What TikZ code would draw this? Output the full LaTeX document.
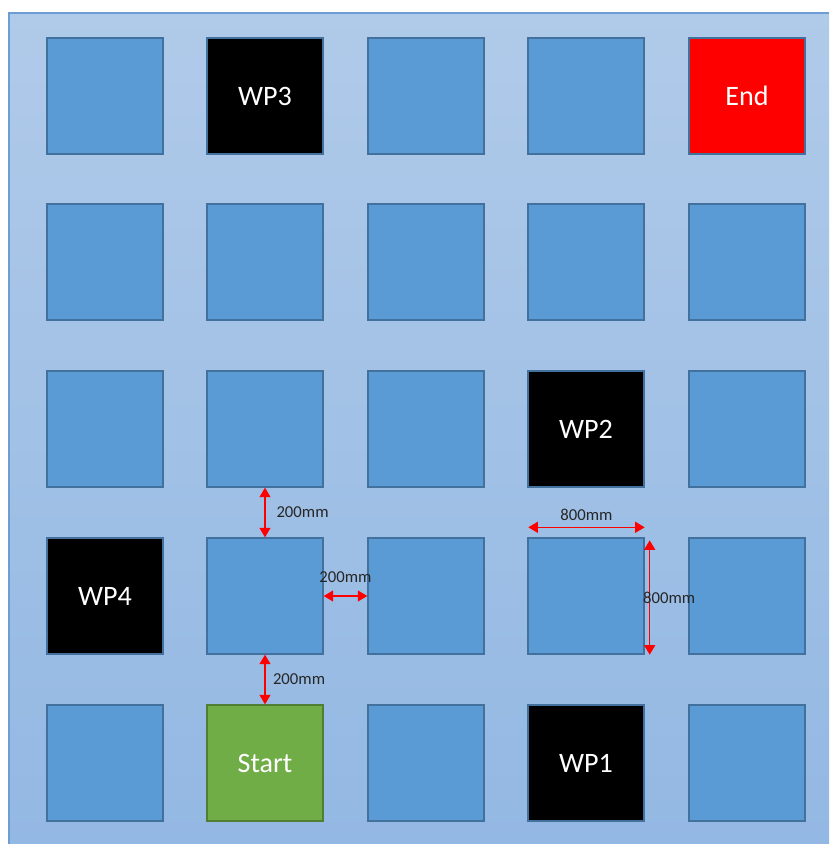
\documentclass[tikz,border=0pt]{standalone}
\usepackage{fontspec}
\setmainfont{Carlito}
\usetikzlibrary{arrows.meta,calc,positioning}

\definecolor{panelTop}{HTML}{B0CAE9}
\definecolor{panelBot}{HTML}{93B8E3}
\definecolor{panelLine}{HTML}{6E9DD6}
\definecolor{tileFill}{HTML}{5B9BD5}
\definecolor{tileLine}{HTML}{41719C}
\definecolor{startFill}{HTML}{70AD47}
\definecolor{startLine}{HTML}{507E32}

\tikzset{
	tile/.style={draw=tileLine, fill=tileFill, line width=0.8pt, minimum size=2.32cm, inner sep=0pt, text=white, font=\fontsize{16}{19}\selectfont},
	wp/.style={tile, fill=black},
	goal/.style={tile, fill=red},
	start/.style={tile, draw=startLine, fill=startFill},
	dim/.style={red, line width=0.6pt, {Triangle[length=0.19cm,width=0.22cm]}-{Triangle[length=0.19cm,width=0.22cm]}},
	dimlabel/.style={text=black!85, font=\fontsize{9.5}{11}\selectfont, inner sep=0pt}
}

\begin{document}
\begin{tikzpicture}[x=0.02cm, y=-0.02cm]
			%%%%% START %%%%%
			
			\useasboundingbox (0, 0) rectangle (829, 844);
			
			\fill[top color=panelTop, bottom color=panelBot] (9, 13) rectangle (829, 844);
			\draw[panelLine, line width=0.6pt] (9, 844) -- (9, 13) -- (829, 13);
			
			% row 1
			\node[tile] (sq11) at (105, 96) {};
			\node[wp]   (sq12) at (265, 96) {WP3};
			\node[tile] (sq13) at (426, 96) {};
			\node[tile] (sq14) at (586, 96) {};
			\node[goal] (sq15) at (747, 96) {End};
			
			% row 2
			\node[tile] (sq21) at (105, 262) {};
			\node[tile] (sq22) at (265, 262) {};
			\node[tile] (sq23) at (426, 262) {};
			\node[tile] (sq24) at (586, 262) {};
			\node[tile] (sq25) at (747, 262) {};
			
			% row 3
			\node[tile] (sq31) at (105, 429) {};
			\node[tile] (sq32) at (265, 429) {};
			\node[tile] (sq33) at (426, 429) {};
			\node[wp]   (sq34) at (586, 429) {WP2};
			\node[tile] (sq35) at (747, 429) {};
			
			% row 4
			\node[wp]   (sq41) at (105, 596) {WP4};
			\node[tile] (sq42) at (265, 596) {};
			\node[tile] (sq43) at (426, 596) {};
			\node[tile] (sq44) at (586, 596) {};
			\node[tile] (sq45) at (747, 596) {};
			
			% row 5
			\node[tile]  (sq51) at (105, 763) {};
			\node[start] (sq52) at (265, 763) {Start};
			\node[tile]  (sq53) at (426, 763) {};
			\node[wp]    (sq54) at (586, 763) {WP1};
			\node[tile]  (sq55) at (747, 763) {};
			
			% gaps
			\draw[dim] (sq32.south) -- node[dimlabel, right=0.22cm] {200mm} (sq42.north);
			\draw[dim] (sq42.east) -- node[dimlabel, above=0.25cm] {200mm} (sq43.west);
			\draw[dim] (sq42.south) -- node[dimlabel, right=0.15cm] {200mm} (sq52.north);
			
			% tile size
			\coordinate (w1) at ($(sq44.north west)+(1, -10)$);
			\coordinate (w2) at ($(sq44.north east)+(0, -10)$);
			\draw[dim] (w1) -- node[dimlabel, above=0.13cm] {800mm} (w2);
			
			\coordinate (h1) at ($(sq44.north east)+(5, 3)$);
			\coordinate (h2) at ($(sq44.south east)+(5, 0)$);
			\draw[dim] (h1) -- node[dimlabel, right, xshift=-0.14cm] {800mm} (h2);
			
			%%%%% END %%%%%
\end{tikzpicture}
\end{document}
